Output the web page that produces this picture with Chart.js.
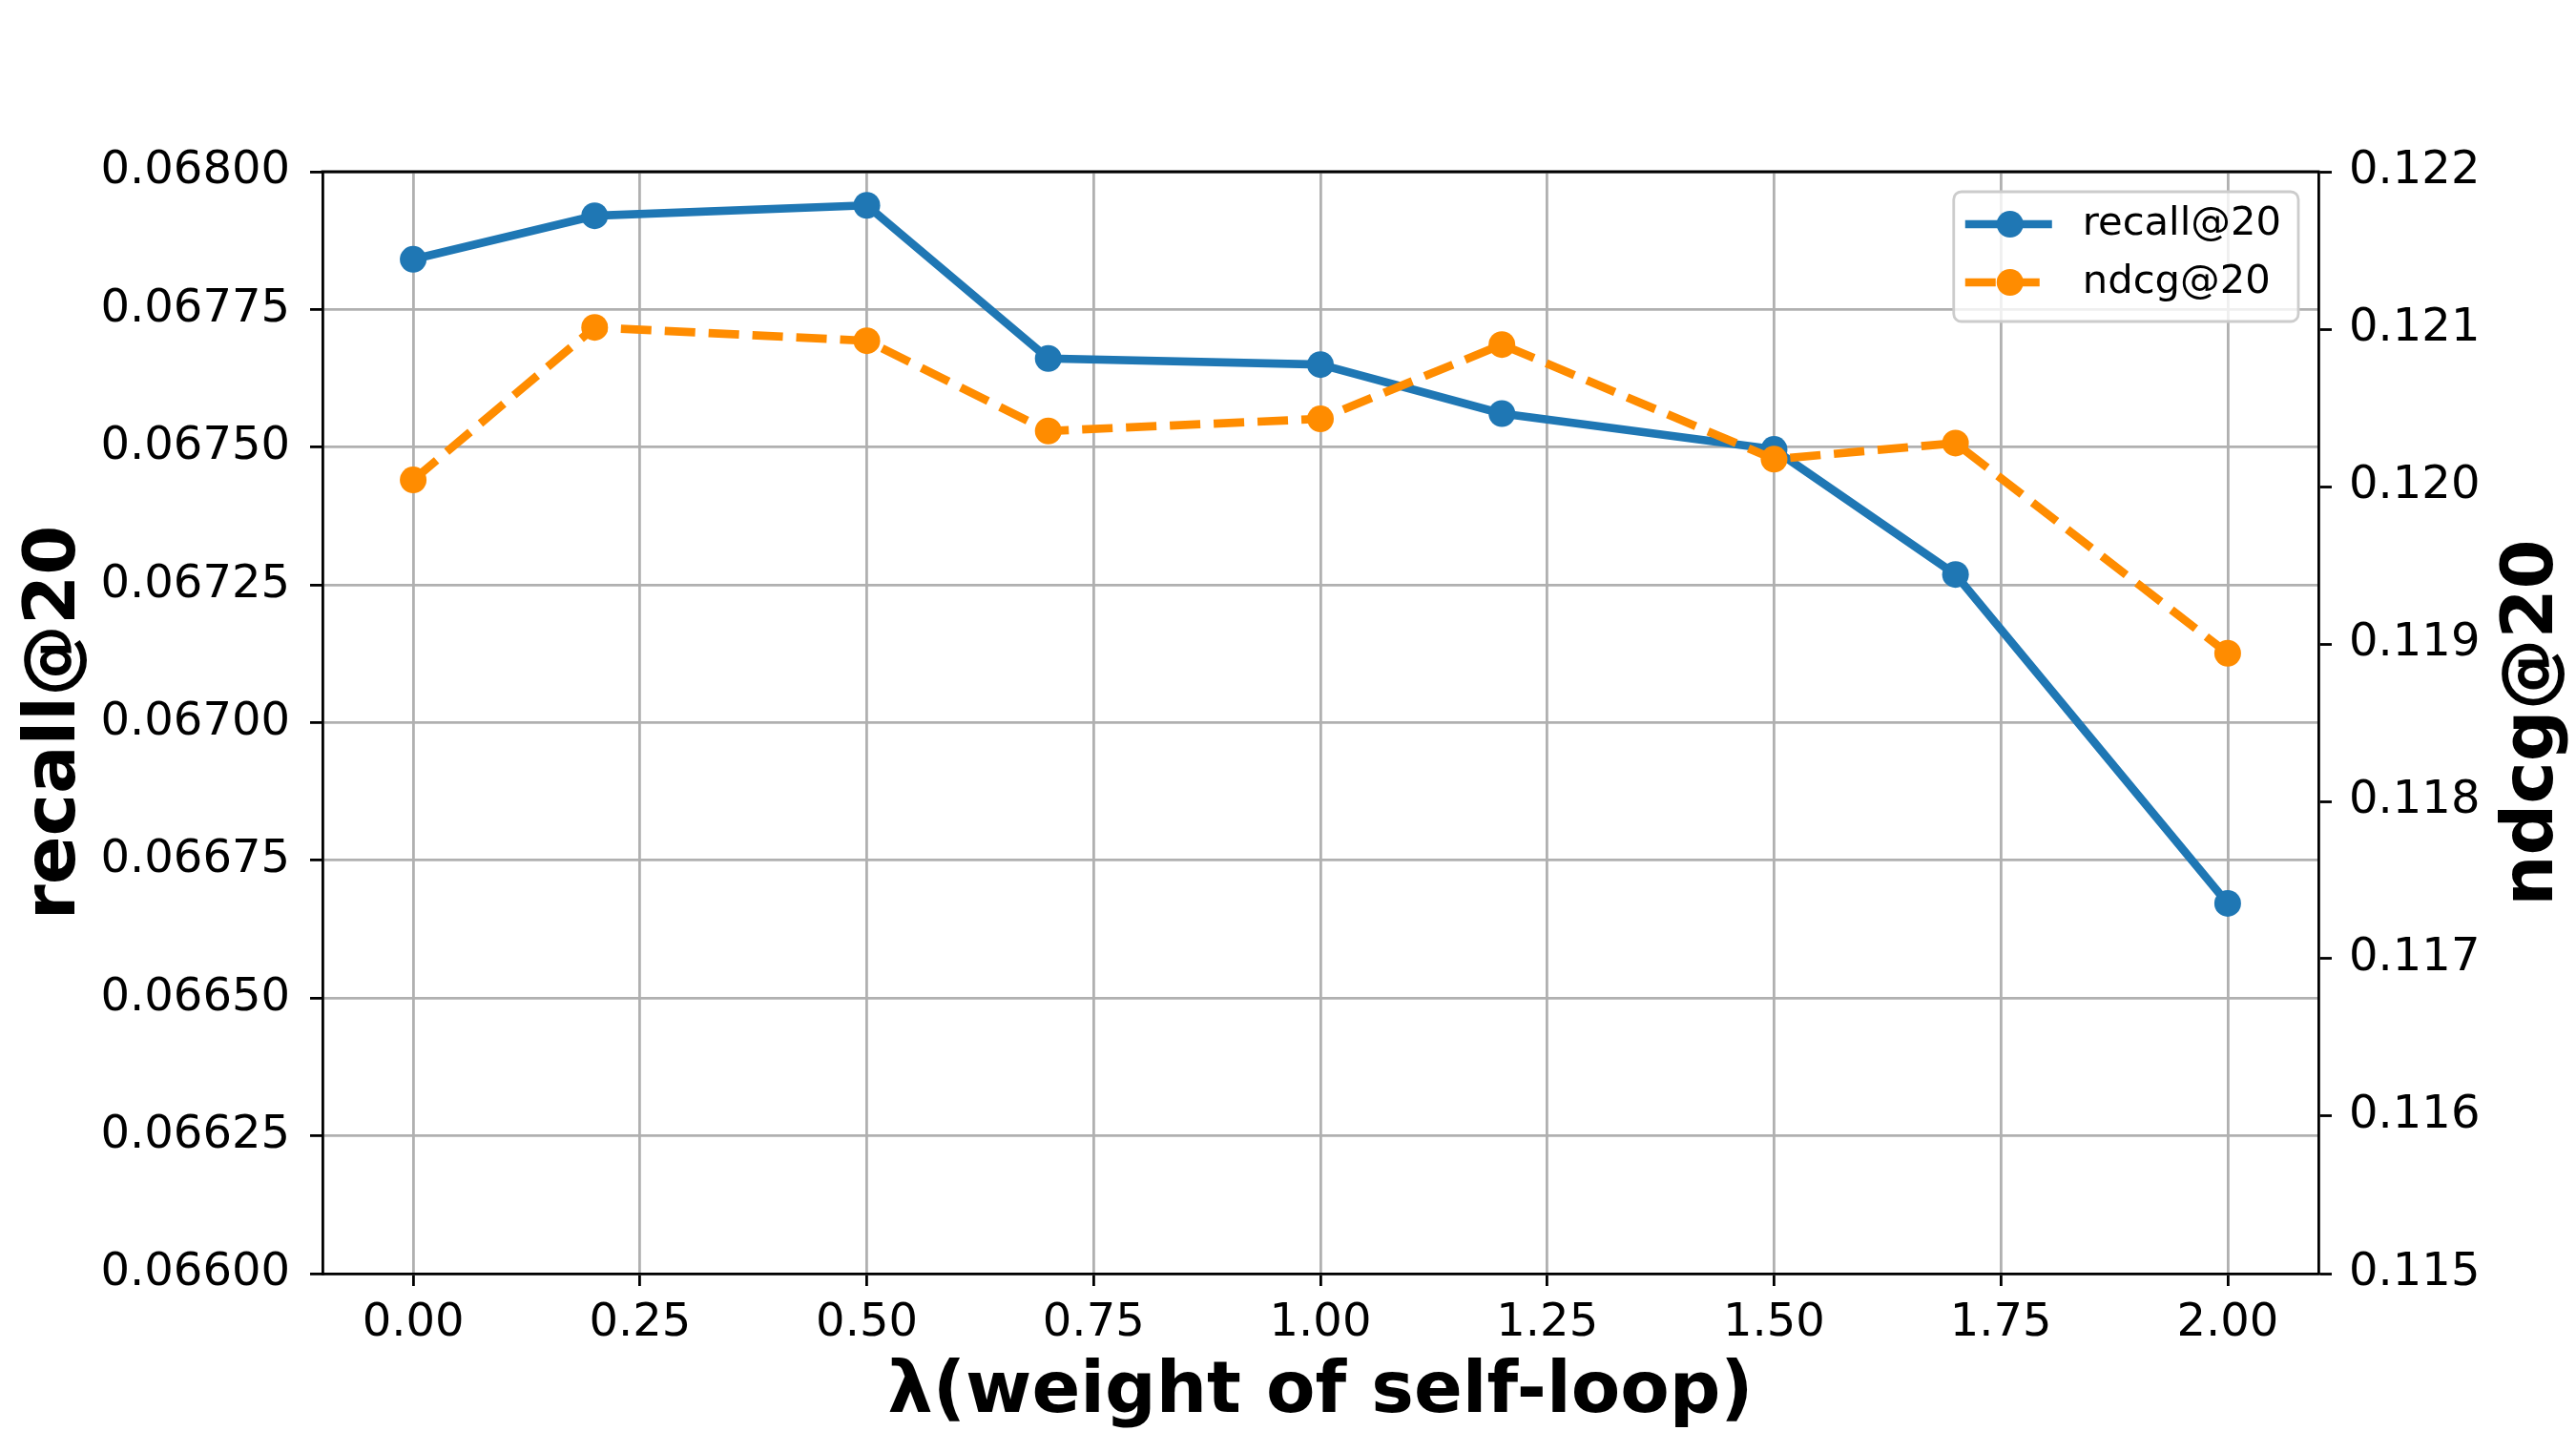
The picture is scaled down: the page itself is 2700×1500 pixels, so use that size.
<!DOCTYPE html>
<html>
<head>
<meta charset="utf-8">
<title>recall@20 / ndcg@20 vs self-loop weight</title>
<script src="https://cdn.jsdelivr.net/npm/chart.js@4.4.1/dist/chart.umd.min.js"></script>
<style>
    html, body { margin: 0; padding: 0; background: #ffffff; }
    #wrap { width: 2700px; height: 1500px; }
</style>
</head>
<body>
<div id="wrap"><canvas id="lambdaChart" width="2700" height="1500"></canvas></div>
<script>
// Data
// ----------------------------------------------
const lambdas      = [0, 0.2, 0.5, 0.7, 1.0, 1.2, 1.5, 1.7, 2.0];
const recallValues = [0.067841, 0.067920, 0.067939, 0.067661, 0.067650, 0.067561, 0.067496, 0.067269, 0.066672];
const ndcgValues   = [0.120042, 0.121011, 0.120926, 0.120353, 0.120430, 0.120902, 0.120174, 0.120276, 0.118941];

const xTicks      = [0, 0.25, 0.5, 0.75, 1.0, 1.25, 1.5, 1.75, 2.0];
const recallTicks = [0.066, 0.06625, 0.0665, 0.06675, 0.067, 0.06725, 0.0675, 0.06775, 0.068];
const ndcgTicks   = [0.115, 0.116, 0.117, 0.118, 0.119, 0.120, 0.121, 0.122];



// Shared look
// ----------------------------------------------
const fontFamily = "'DejaVu Sans', 'Liberation Sans', sans-serif";
const blue       = "#1f77b4";
const orange     = "#ff8c00";
const gridGray   = "#b0b0b0";
const spineWidth = 2.8;

Chart.defaults.font.family = fontFamily;
Chart.defaults.color = "#000";

const tickFont  = { family: fontFamily, size: 48 };
const titleFont = { family: fontFamily, size: 75, weight: "bold", lineHeight: 1 };

const toPoints = ( xs, ys ) => xs.map( ( x, i ) => ({ x: x, y: ys[i] }) );
const setTicks = ( values ) => ( scale ) => { scale.ticks = values.map( v => ({ value: v }) ); };



// Top spine, right-hand title and matplotlib-like legend
// ----------------------------------------------
const framePlugin = {
    id: "frame",
    afterDraw( chart ) {
        const { ctx, chartArea } = chart;
        ctx.save();

        // top spine
        ctx.strokeStyle = "#000";
        ctx.lineWidth = spineWidth;
        ctx.beginPath();
        ctx.moveTo( chartArea.left - spineWidth / 2, chartArea.top );
        ctx.lineTo( chartArea.right + spineWidth / 2, chartArea.top );
        ctx.stroke();

        // right axis title, reading bottom to top
        ctx.translate( chartArea.right + 226, ( chartArea.top + chartArea.bottom ) / 2 );
        ctx.rotate( -Math.PI / 2 );
        ctx.font = "bold 75px " + fontFamily;
        ctx.fillStyle = "#000";
        ctx.textAlign = "center";
        ctx.textBaseline = "middle";
        ctx.fillText( "ndcg@20", 0, 0 );
        ctx.restore();

        // legend
        const sets = chart.data.datasets;
        ctx.save();
        ctx.font = "41.7px " + fontFamily;
        const textW = Math.max( ...sets.map( d => ctx.measureText( d.label ).width ) );
        const boxW = 135 + textW + 18;
        const boxH = 136;
        const boxR = chartArea.right - 21;
        const boxX = boxR - boxW;
        const boxY = chartArea.top + 21;

        ctx.beginPath();
        ctx.roundRect( boxX, boxY, boxW, boxH, 8 );
        ctx.fillStyle = "rgba(255,255,255,0.8)";
        ctx.fill();
        ctx.strokeStyle = "#cccccc";
        ctx.lineWidth = spineWidth;
        ctx.stroke();

        sets.forEach( ( d, i ) => {
            const cy = boxY + 34 + i * 61;
            const hx = boxX + 12;
            ctx.strokeStyle = d.borderColor;
            ctx.lineWidth = d.borderWidth;
            ctx.setLineDash( d.borderDash || [] );
            ctx.beginPath();
            ctx.moveTo( hx, cy );
            ctx.lineTo( hx + 91, cy );
            ctx.stroke();
            ctx.setLineDash( [] );

            ctx.fillStyle = d.pointBackgroundColor;
            ctx.beginPath();
            ctx.arc( hx + 47, cy, d.pointRadius, 0, Math.PI * 2 );
            ctx.fill();

            ctx.fillStyle = "#000";
            ctx.textAlign = "left";
            ctx.textBaseline = "middle";
            ctx.fillText( d.label, boxX + 135, cy );
        });
        ctx.restore();
    }
};



// Line chart with two y axes
// ----------------------------------------------
const lambdaChart = new Chart(
    document.getElementById( "lambdaChart" ), {
        type: "line",
        data: {
            datasets: [
                {
                    label: "recall@20",
                    data: toPoints( lambdas, recallValues ),
                    yAxisID: "y",
                    order: 2,
                    borderColor: blue,
                    backgroundColor: blue,
                    borderWidth: 8.7,
                    borderJoinStyle: "round",
                    pointRadius: 14,
                    pointHoverRadius: 14,
                    pointBorderWidth: 0,
                    pointBackgroundColor: blue,
                    tension: 0
                },
                {
                    label: "ndcg@20",
                    data: toPoints( lambdas, ndcgValues ),
                    yAxisID: "y2",
                    order: 1,
                    borderColor: orange,
                    backgroundColor: orange,
                    borderWidth: 8.7,
                    borderDash: [ 32, 14 ],
                    pointRadius: 14,
                    pointHoverRadius: 14,
                    pointBorderWidth: 0,
                    pointBackgroundColor: orange,
                    tension: 0
                }
            ]
        },
        options: {
            responsive: false,
            maintainAspectRatio: false,
            devicePixelRatio: 1,
            animation: false,
            layout: { padding: { top: 180, left: 0, right: 0, bottom: 0 } },
            plugins: {
                legend: { display: false },
                tooltip: { enabled: false }
            },
            scales: {
                x: {
                    type: "linear",
                    position: "bottom",
                    min: -0.1,
                    max: 2.1,
                    afterBuildTicks: setTicks( xTicks ),
                    afterFit: ( s ) => { s.height = 165; },
                    grid: { color: gridGray, lineWidth: 2.8, tickColor: "#000", tickWidth: spineWidth, tickLength: 13 },
                    border: { color: "#000", width: spineWidth },
                    ticks: {
                        font: tickFont,
                        color: "#000",
                        padding: 11,
                        maxRotation: 0,
                        autoSkip: false,
                        callback: ( v ) => Number( v ).toFixed( 2 )
                    },
                    title: {
                        display: true,
                        text: "λ(weight of self-loop)",
                        font: titleFont,
                        color: "#000",
                        padding: { top: 0, bottom: 2 }
                    }
                },
                y: {
                    type: "linear",
                    position: "left",
                    min: 0.066,
                    max: 0.068,
                    afterBuildTicks: setTicks( recallTicks ),
                    afterFit: ( s ) => { s.width = 338; },
                    grid: { color: gridGray, lineWidth: 2.8, tickColor: "#000", tickWidth: spineWidth, tickLength: 13 },
                    border: { color: "#000", width: spineWidth },
                    ticks: {
                        font: tickFont,
                        color: "#000",
                        padding: 21,
                        autoSkip: false,
                        callback: ( v ) => Number( v ).toFixed( 5 )
                    },
                    title: {
                        display: true,
                        text: "recall@20",
                        font: titleFont,
                        color: "#000",
                        padding: { top: 21, bottom: 0 }
                    }
                },
                y2: {
                    type: "linear",
                    position: "right",
                    min: 0.115,
                    max: 0.122,
                    afterBuildTicks: setTicks( ndcgTicks ),
                    afterFit: ( s ) => { s.width = 270; },
                    grid: { drawOnChartArea: false, color: "#000", tickColor: "#000", tickWidth: spineWidth, tickLength: 14 },
                    border: { color: "#000", width: spineWidth },
                    ticks: {
                        font: tickFont,
                        color: "#000",
                        padding: 18,
                        autoSkip: false,
                        callback: ( v ) => Number( v ).toFixed( 3 )
                    }
                }
            }
        },
        plugins: [ framePlugin ]
    }
);
</script>
</body>
</html>
